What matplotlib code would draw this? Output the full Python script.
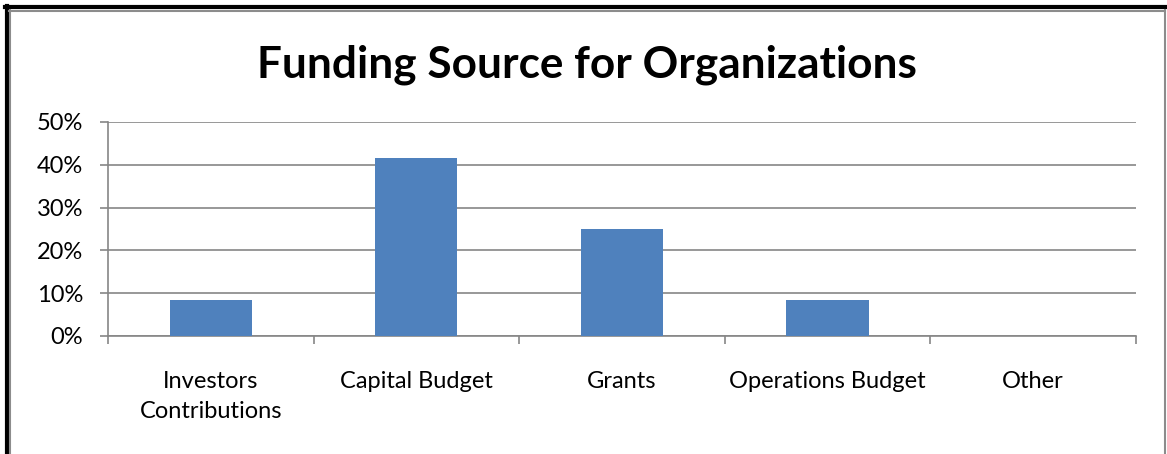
import matplotlib.pyplot as plt
from matplotlib.lines import Line2D
from matplotlib.ticker import FixedLocator, PercentFormatter

categories = ['Investors\nContributions', 'Capital Budget', 'Grants',
              'Operations Budget', 'Other']
values = [8.33, 41.67, 25.0, 8.33, 0.0]

plt.rcParams['font.family'] = ['Lato', 'DejaVu Sans']

fig = plt.figure(figsize=(11.67, 4.54), dpi=100)
ax = fig.add_axes([0.0925, 0.26, 0.8809, 0.4713])

x = range(len(categories))
ax.bar(x, values, width=0.4, color='#4F81BD', zorder=3)

ax.set_xlim(-0.5, len(categories) - 0.5)
ax.set_ylim(0, 50)
ax.set_yticks(range(0, 51, 10))
ax.yaxis.set_major_formatter(PercentFormatter(decimals=0))
ax.yaxis.grid(True, color='#868686', linewidth=1.2, zorder=0)

# category labels centred, ticks at the boundaries
ax.xaxis.set_major_locator(FixedLocator([i - 0.5 for i in range(len(categories) + 1)]))
ax.xaxis.set_minor_locator(FixedLocator(list(x)))
ax.set_xticklabels([''] * (len(categories) + 1))
ax.set_xticklabels(categories, minor=True, fontsize=17, linespacing=1.5)
ax.tick_params(axis='x', which='minor', length=0, pad=25.5)
ax.tick_params(axis='x', which='major', length=6, width=1.2, color='#868686', direction='out')
ax.tick_params(axis='y', length=6, width=1.2, color='#868686', labelsize=17, pad=12)

for s in ['top', 'right']:
    ax.spines[s].set_visible(False)
for s in ['left', 'bottom']:
    ax.spines[s].set_color('#868686')
    ax.spines[s].set_linewidth(1.2)

fig.text(0.503, 0.858, 'Funding Source for Organizations', ha='center', va='center',
         fontsize=31.8, fontweight='bold')

# border of the chart box
W, H = 1167, 454
def fx(px): return px / W
def fy(py): return 1 - py / H
fig.add_artist(Line2D([fx(5), fx(1167)], [fy(7), fy(7)], color='black', lw=3))
fig.add_artist(Line2D([fx(6.5), fx(6.5)], [fy(6), fy(454)], color='black', lw=3))
fig.add_artist(Line2D([fx(9), fx(1165)], [fy(10.5), fy(10.5)], color='#8c8c8c', lw=1.5))
fig.add_artist(Line2D([fx(9.5), fx(9.5)], [fy(10), fy(454)], color='#8c8c8c', lw=1.5))
fig.add_artist(Line2D([fx(1164.5), fx(1164.5)], [fy(10), fy(454)], color='#8c8c8c', lw=1.5))

fig.savefig('out.png', dpi=100)
